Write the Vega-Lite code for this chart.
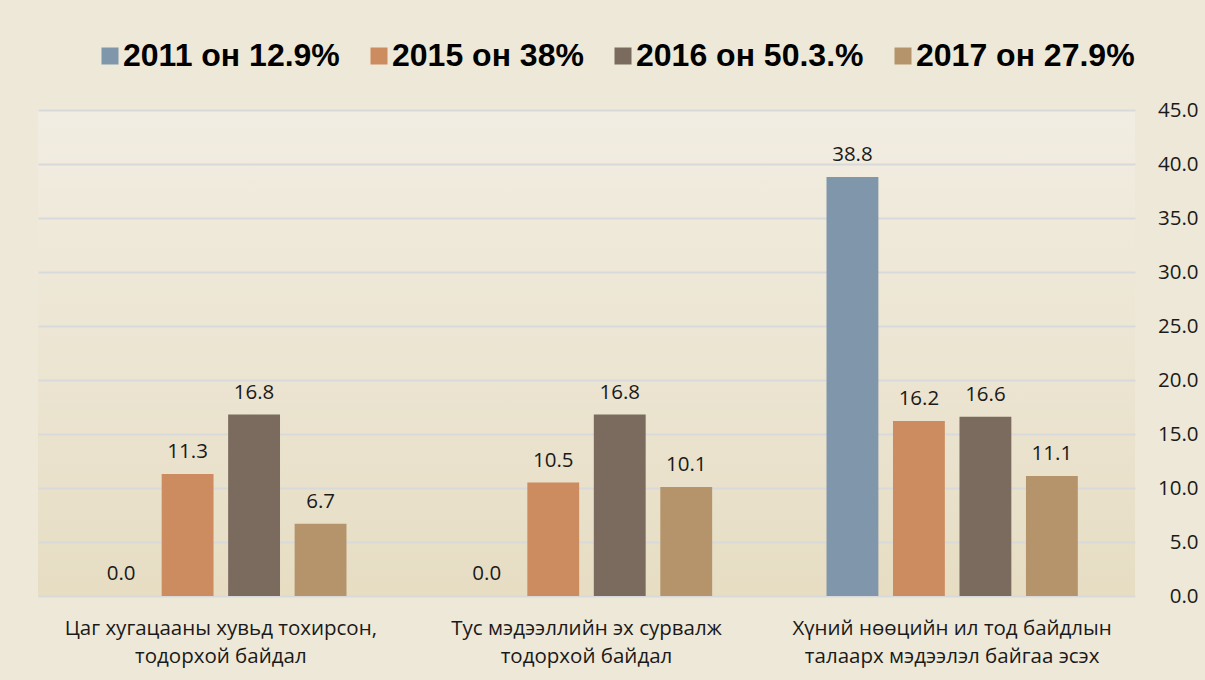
{
  "$schema": "https://vega.github.io/schema/vega-lite/v6.json",
  "width": 1097,
  "height": 486,
  "autosize": {"type": "none"},
  "padding": {"left": 38, "top": 110, "right": 70, "bottom": 84},
  "background": "#eee8d8",
  "config": {
    "view": {
      "stroke": null,
      "fill": {
        "gradient": "linear",
        "x1": 0, "y1": 0, "x2": 0, "y2": 1,
        "stops": [
          {"offset": 0, "color": "#f2ede2"},
          {"offset": 1, "color": "#e6ddc3"}
        ]
      }
    }
  },
  "data": {
    "values": [
      {"category": "Цаг хугацааны хувьд тохирсон,\nтодорхой байдал", "series": "2011 он 12.9%", "value": 0.0},
      {"category": "Цаг хугацааны хувьд тохирсон,\nтодорхой байдал", "series": "2015 он 38%", "value": 11.3},
      {"category": "Цаг хугацааны хувьд тохирсон,\nтодорхой байдал", "series": "2016 он 50.3.%", "value": 16.8},
      {"category": "Цаг хугацааны хувьд тохирсон,\nтодорхой байдал", "series": "2017 он 27.9%", "value": 6.7},
      {"category": "Тус мэдээллийн эх сурвалж\nтодорхой байдал", "series": "2011 он 12.9%", "value": 0.0},
      {"category": "Тус мэдээллийн эх сурвалж\nтодорхой байдал", "series": "2015 он 38%", "value": 10.5},
      {"category": "Тус мэдээллийн эх сурвалж\nтодорхой байдал", "series": "2016 он 50.3.%", "value": 16.8},
      {"category": "Тус мэдээллийн эх сурвалж\nтодорхой байдал", "series": "2017 он 27.9%", "value": 10.1},
      {"category": "Хүний нөөцийн ил тод байдлын\nталаарх мэдээлэл байгаа эсэх", "series": "2011 он 12.9%", "value": 38.8},
      {"category": "Хүний нөөцийн ил тод байдлын\nталаарх мэдээлэл байгаа эсэх", "series": "2015 он 38%", "value": 16.2},
      {"category": "Хүний нөөцийн ил тод байдлын\nталаарх мэдээлэл байгаа эсэх", "series": "2016 он 50.3.%", "value": 16.6},
      {"category": "Хүний нөөцийн ил тод байдлын\nталаарх мэдээлэл байгаа эсэх", "series": "2017 он 27.9%", "value": 11.1}
    ]
  },
  "encoding": {
    "x": {
      "field": "category",
      "type": "nominal",
      "sort": null,
      "title": null,
      "scale": {"paddingInner": 0, "paddingOuter": 0},
      "axis": {
        "orient": "bottom",
        "domain": false,
        "ticks": false,
        "labelAngle": 0,
        "labelFont": "Open Sans",
        "labelFontSize": 20.5,
        "labelColor": "#1a1a1a",
        "labelPadding": 22,
        "labelLineHeight": 28,
        "labelLimit": 0,
        "labelExpr": "split(datum.label, '\\n')"
      }
    },
    "xOffset": {
      "field": "series",
      "type": "nominal",
      "sort": null,
      "scale": {"paddingInner": 0.22, "paddingOuter": 0.86}
    },
    "y": {
      "field": "value",
      "type": "quantitative",
      "title": null,
      "scale": {"domain": [0, 45], "nice": false},
      "axis": {
        "orient": "right",
        "values": [0, 5, 10, 15, 20, 25, 30, 35, 40, 45],
        "format": ".1f",
        "domain": false,
        "ticks": false,
        "tickSize": 0,
        "grid": true,
        "gridColor": "#d8d9db",
        "gridWidth": 2,
        "labelAlign": "right",
        "labelPadding": 63,
        "labelFont": "Open Sans",
        "labelFontSize": 20.5,
        "labelColor": "#1a1a1a"
      }
    }
  },
  "layer": [
    {
      "mark": {"type": "bar"},
      "encoding": {
        "color": {
          "field": "series",
          "type": "nominal",
          "sort": null,
          "title": null,
          "scale": {
            "domain": ["2011 он 12.9%", "2015 он 38%", "2016 он 50.3.%", "2017 он 27.9%"],
            "range": ["#7f96ab", "#cd8c60", "#7b6a5e", "#b6946b"]
          },
          "legend": {
            "orient": "none",
            "legendX": 56,
            "legendY": -70,
            "padding": 0,
            "direction": "horizontal",
            "symbolType": "square",
            "symbolSize": 289,
            "symbolStrokeWidth": 0,
            "labelFont": "Liberation Sans",
            "labelFontWeight": "bold",
            "labelFontSize": 32,
            "labelColor": "#000000",
            "labelOffset": -3,
            "labelLimit": 0,
            "columnPadding": 23
          }
        }
      }
    },
    {
      "mark": {
        "type": "text",
        "baseline": "bottom",
        "dy": -12,
        "font": "Open Sans",
        "fontSize": 20.5,
        "color": "#1a1a1a"
      },
      "encoding": {
        "text": {"field": "value", "type": "quantitative", "format": ".1f"}
      }
    }
  ]
}
